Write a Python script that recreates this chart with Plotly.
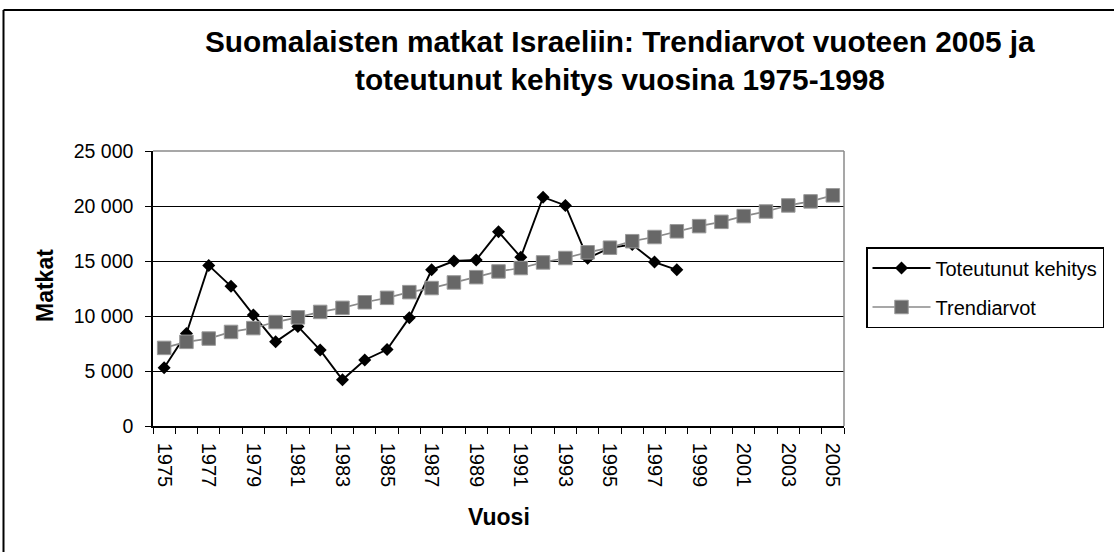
import plotly.graph_objects as go

# ---- data ----
actual_years = list(range(1975, 1999))
actual_values = [5300, 8400, 14600, 12700, 10100, 7650, 9050, 6900, 4200, 6000,
                 6950, 9850, 14200, 15000, 15100, 17650, 15350, 20800, 20050, 15250,
                 16200, 16500, 14900, 14200]
trend_years = list(range(1975, 2006))
trend_values = [7100, 7650, 7950, 8550, 8900, 9450, 9880, 10370, 10740, 11250,
                11650, 12170, 12540, 13050, 13530, 14050, 14360, 14870, 15270, 15790,
                16210, 16800, 17180, 17700, 18170, 18560, 19080, 19500, 20050, 20420,
                20970]
x_tick_years = list(range(1975, 2006, 2))
x_tick_labels = [str(y) for y in x_tick_years]
y_tick_values = [0, 5000, 10000, 15000, 20000, 25000]
y_tick_labels = ["0", "5 000", "10 000", "15 000", "20 000", "25 000"]

title_line1 = "Suomalaisten matkat Israeliin: Trendiarvot vuoteen 2005 ja"
title_line2 = "toteutunut kehitys vuosina 1975-1998"

FONT = "Liberation Sans, Arial, sans-serif"

fig = go.Figure()
fig.add_trace(go.Scatter(
    x=actual_years, y=actual_values, name="Toteutunut kehitys",
    mode="lines+markers", legendgroup="a",
    line=dict(color="#000000", width=1.9),
    marker=dict(symbol="diamond", size=10, color="#000000"),
))
fig.add_trace(go.Scatter(
    x=trend_years, y=trend_values, name="Trendiarvot",
    mode="lines+markers", legendgroup="b",
    line=dict(color="#8a8a8a", width=1.7),
    marker=dict(symbol="square", size=13.5, color="#676767",
                line=dict(color="#9a9a9a", width=1)),
))

W, H = 1114, 552
L, T = 153, 151
R = W - 844
B = H - 426
PW, PH = W - L - R, H - T - B

def px_x(p):
    return (p - L) / PW

def px_y(p):
    return (H - B - p) / PH

fig.update_layout(
    width=W, height=H,
    margin=dict(l=L, r=R, t=T, b=B, autoexpand=False),
    paper_bgcolor="white", plot_bgcolor="white",
    font=dict(family=FONT, size=20, color="black"),
    showlegend=True,
    legend=dict(
        x=px_x(866), y=px_y(247), xanchor="left", yanchor="top",
        bordercolor="black", borderwidth=1.5, bgcolor="white",
        font=dict(size=20, family=FONT), itemwidth=58,
        entrywidth=262, entrywidthmode="pixels",
        tracegroupgap=10,
    ),
    xaxis=dict(
        range=[1974.5, 2005.5], tickmode="array",
        tickvals=x_tick_years, ticktext=x_tick_labels, tickangle=90,
        ticks="", ticklabelstandoff=11,
        showgrid=False, zeroline=False,
        showline=True, linecolor="black", linewidth=1.5,
        minor=dict(ticks="outside", tick0=1974.5, dtick=1, ticklen=6,
                   tickcolor="black", tickwidth=1, showgrid=False),
        tickfont=dict(size=20, family=FONT),
    ),
    yaxis=dict(
        range=[0, 25000], tickmode="array",
        tickvals=y_tick_values, ticktext=y_tick_labels,
        ticks="outside", ticklen=6, tickcolor="black", tickwidth=1,
        ticklabelstandoff=8,
        showgrid=True, gridcolor="black", gridwidth=1,
        zeroline=False, showline=True, linecolor="black", linewidth=1.5,
        tickfont=dict(size=19.5, family=FONT),
    ),
    shapes=[
        dict(type="line", xref="paper", yref="paper", x0=0, x1=1, y0=1, y1=1,
             line=dict(color="#8a8a8a", width=1.5), layer="above"),
        dict(type="line", xref="paper", yref="paper", x0=1, x1=1, y0=0, y1=1,
             line=dict(color="#8a8a8a", width=1.5), layer="above"),
        # chart border: left and top edges (right/bottom fall outside the view)
        dict(type="line", xref="paper", yref="paper",
             x0=px_x(3.5), x1=px_x(3.5), y0=px_y(560), y1=px_y(10),
             line=dict(color="black", width=2), layer="below"),
        dict(type="line", xref="paper", yref="paper",
             x0=px_x(3.5), x1=px_x(1120), y0=px_y(10), y1=px_y(10),
             line=dict(color="black", width=2), layer="below"),
    ],
    annotations=[
        dict(text="<b>" + title_line1 + "</b>", xref="paper", yref="paper",
             x=px_x(620), y=px_y(42), xanchor="center", yanchor="middle",
             showarrow=False, font=dict(size=29.8, family=FONT)),
        dict(text="<b>" + title_line2 + "</b>", xref="paper", yref="paper",
             x=px_x(620), y=px_y(79), xanchor="center", yanchor="middle",
             showarrow=False, font=dict(size=29.8, family=FONT)),
        dict(text="<b>Matkat</b>", xref="paper", yref="paper",
             x=px_x(45), y=px_y(286), xanchor="center", yanchor="middle",
             textangle=-90, showarrow=False, font=dict(size=23, family=FONT)),
        dict(text="<b>Vuosi</b>", xref="paper", yref="paper",
             x=px_x(499), y=px_y(517), xanchor="center", yanchor="middle",
             showarrow=False, font=dict(size=23, family=FONT)),
    ],
)

fig.write_html("out.html",
               config={"displayModeBar": False},
               post_script="document.body.style.margin='0';"
                           "document.body.style.overflow='hidden';")
